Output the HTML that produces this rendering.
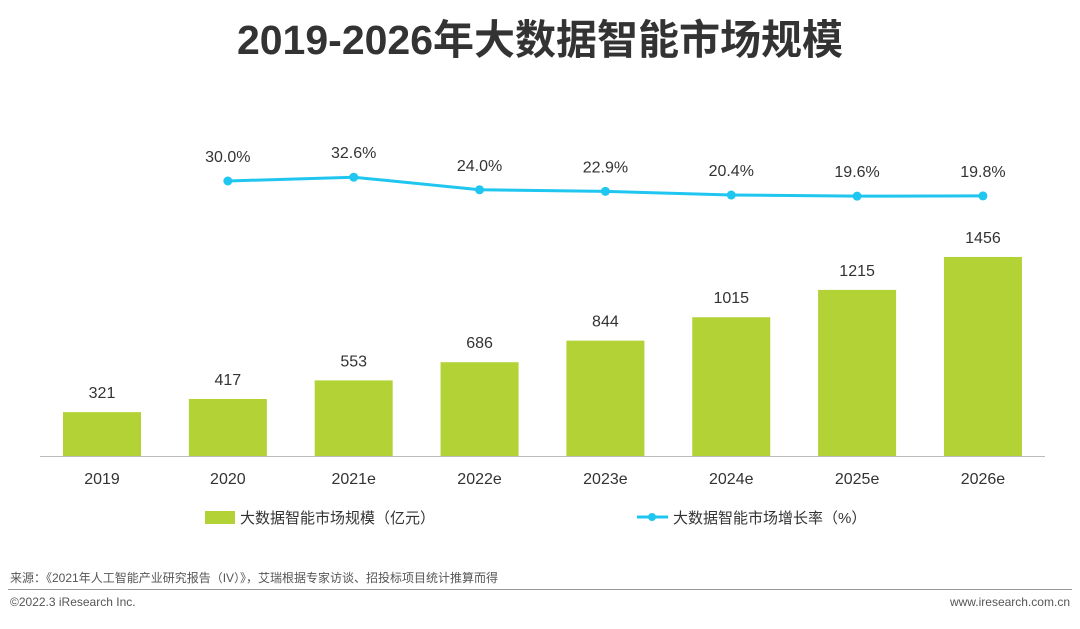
<!DOCTYPE html>
<html><head><meta charset="utf-8"><style>
body{margin:0;width:1080px;height:624px;background:#fff;overflow:hidden;font-family:"Liberation Sans","Noto Sans CJK SC",sans-serif;}
</style></head><body>
<svg width="1080" height="624" xmlns="http://www.w3.org/2000/svg" style="font-family:'Liberation Sans','Noto Sans CJK SC',sans-serif">
<text x="540" y="54" text-anchor="middle" font-size="41" font-weight="bold" fill="#333">2019-2026年大数据智能市场规模</text>
<g id="bars"></g>
<g id="line"></g>
<line x1="40" y1="456.5" x2="1045" y2="456.5" stroke="#bbb" stroke-width="1"/>
<g id="xlabels"></g>
<g>
<rect x="205" y="511" width="30" height="13" fill="#b2d235"/>
<text x="240" y="523" font-size="15" fill="#333">大数据智能市场规模（亿元）</text>
<line x1="637" y1="517" x2="668" y2="517" stroke="#1fc6ef" stroke-width="3"/>
<circle cx="652" cy="517" r="4" fill="#1fc6ef"/>
<text x="673" y="523" font-size="15" fill="#333">大数据智能市场增长率（%）</text>
</g>
<text x="10" y="582" font-size="12" fill="#555">来源：《2021年人工智能产业研究报告（IV）》，艾瑞根据专家访谈、招投标项目统计推算而得</text>
<line x1="8" y1="589.5" x2="1072" y2="589.5" stroke="#999" stroke-width="1"/>
<text x="10" y="606" font-size="12" fill="#555">©2022.3 iResearch Inc.</text>
<text x="1070" y="606" font-size="12" fill="#555" text-anchor="end">www.iresearch.com.cn</text>
</svg>
<script>
const categories=["2019","2020","2021e","2022e","2023e","2024e","2025e","2026e"];
const marketSize=[321,417,553,686,844,1015,1215,1456];
const growthRate=[null,30.0,32.6,24.0,22.9,20.4,19.6,19.8];
const NS="http://www.w3.org/2000/svg";
const x0=102,step=125.85,bw=78,base=456;
const xPos=i=>x0+i*step;
const yBar=v=>base-v*0.1367;
const yLine=v=>181-(v-30)*1.46;
function mk(tag,attrs,parent,text){const e=document.createElementNS(NS,tag);for(const k in attrs)e.setAttribute(k,attrs[k]);if(text!==undefined)e.textContent=text;parent.appendChild(e);return e;}
const gb=document.getElementById('bars'),gl=document.getElementById('line'),gx=document.getElementById('xlabels');
marketSize.forEach((v,i)=>{
 const r=mk('rect',{x:xPos(i)-bw/2,y:yBar(v),width:bw,height:base-yBar(v),fill:'#b2d235'},gb);
 
 
 const t=mk('text',{x:xPos(i),y:yBar(v)-14,'text-anchor':'middle','font-size':16,fill:'#333'},gb,String(v));
 
 
 const xl=mk('text',{x:xPos(i),y:484,'text-anchor':'middle','font-size':16,fill:'#333'},gx,categories[i]);
 
 
});
let pts=[];
growthRate.forEach((v,i)=>{if(v!==null)pts.push([xPos(i),yLine(v),v,i]);});
const pl=mk('polyline',{points:pts.map(p=>p[0]+','+p[1]).join(' '),fill:'none',stroke:'#1fc6ef','stroke-width':3},gl);


pts.forEach(p=>{
 const c=mk('circle',{cx:p[0],cy:p[1],r:4.5,fill:'#1fc6ef'},gl);
 
 
 const t=mk('text',{x:p[0],y:p[1]-19,'text-anchor':'middle','font-size':16,fill:'#333'},gl,p[2].toFixed(1)+'%');
 
 
});
</script>
</body></html>
